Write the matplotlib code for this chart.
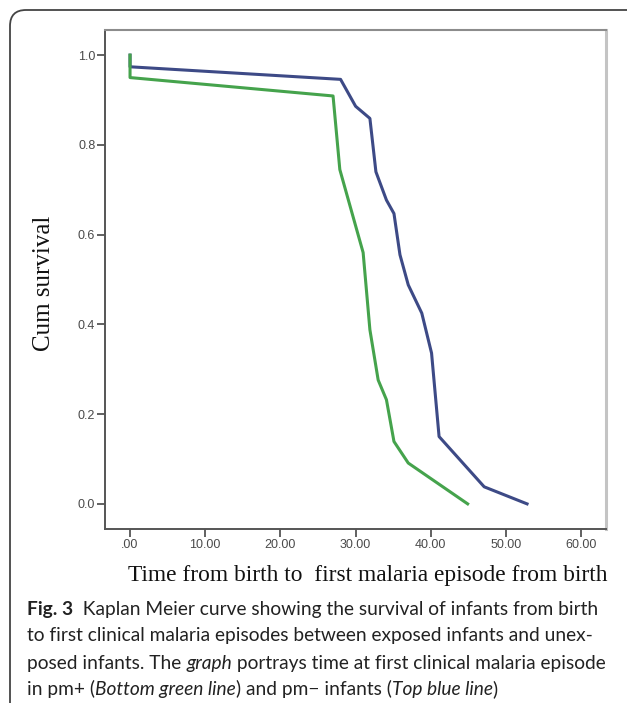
import matplotlib
matplotlib.use("Agg")
import matplotlib.pyplot as plt
from matplotlib.path import Path
from matplotlib.patches import PathPatch

# Kaplan Meier curves
t_neg = [0, 0, 28.0, 30.0, 31.9, 32.7, 34.1, 35.1, 35.9, 37.0, 38.8, 40.1, 41.1, 47.1, 52.8]
s_neg = [1.0, 0.974, 0.946, 0.886, 0.859, 0.740, 0.677, 0.647, 0.555, 0.488, 0.425, 0.336, 0.150, 0.038, 0.0]

t_pos = [0, 0, 27.0, 27.9, 31.0, 31.9, 33.0, 34.1, 35.1, 37.0, 44.9]
s_pos = [1.0, 0.950, 0.909, 0.745, 0.560, 0.388, 0.276, 0.232, 0.139, 0.091, 0.0]

xticks = [0, 10, 20, 30, 40, 50, 60]
xtick_labels = [".00", "10.00", "20.00", "30.00", "40.00", "50.00", "60.00"]
yticks = [0.0, 0.2, 0.4, 0.6, 0.8, 1.0]
ytick_labels = ["0.0", "0.2", "0.4", "0.6", "0.8", "1.0"]

caption = [
    [("Fig. 3", "bold"), ("  Kaplan Meier curve showing the survival of infants from birth", "normal")],
    [("to first clinical malaria episodes between exposed infants and unex-", "normal")],
    [("posed infants. The ", "normal"), ("graph", "italic"),
     (" portrays time at first clinical malaria episode", "normal")],
    [("in pm+ (", "normal"), ("Bottom green line", "italic"), (") and pm\u2212 infants (", "normal"),
     ("Top blue line", "italic"), (")", "normal")],
]

W, H = 627, 705
fig = plt.figure(figsize=(W / 100, H / 100), dpi=100)


def fx(x):
    return x / W


def fy(y):
    return 1 - y / H


# frame round the figure and caption
verts = [(fx(10), fy(703)), (fx(10), fy(26)), (fx(10), fy(10)), (fx(26), fy(10)), (fx(627), fy(10))]
codes = [Path.MOVETO, Path.LINETO, Path.CURVE3, Path.CURVE3, Path.LINETO]
fig.patches.append(PathPatch(Path(verts, codes), transform=fig.transFigure,
                             fill=False, edgecolor="#444444", lw=1.3))

ax = fig.add_axes([fx(105), fy(529), (606 - 105) / W, (529 - 30) / H])
ax.plot(t_neg, s_neg, color="#3d4a86", lw=2.2, solid_joinstyle="round")
ax.plot(t_pos, s_pos, color="#45a34c", lw=2.2, solid_joinstyle="round")

ax.set_xlim(-3.33, 63.3)
ax.set_ylim(-0.056, 1.056)
ax.set_xticks(xticks)
ax.set_xticklabels(xtick_labels)
ax.set_yticks(yticks)
ax.set_yticklabels(ytick_labels)
ax.tick_params(axis="both", direction="out", length=5.5, width=1.3, color="#555555",
               labelsize=9, labelcolor="#4a4a4a", pad=1.5)
for lab in ax.get_xticklabels() + ax.get_yticklabels():
    lab.set_family("Liberation Sans")

ax.spines["left"].set_color("#555555")
ax.spines["bottom"].set_color("#555555")
ax.spines["top"].set_color("#8c8c8c")
ax.spines["right"].set_color("#c4c4c4")
ax.spines["left"].set_linewidth(1.4)
ax.spines["bottom"].set_linewidth(1.4)
ax.spines["top"].set_linewidth(1.5)
ax.spines["right"].set_linewidth(2.2)

fig.text(fx(368), fy(575), "Time from birth to  first malaria episode from birth",
         family="Liberation Serif", fontsize=16.8, ha="center", va="center", color="#111111")
fig.text(fx(44), fy(283), "Cum survival", family="Liberation Serif", fontsize=18,
         rotation=90, ha="center", va="center", color="#111111")

renderer = fig.canvas.get_renderer()
line_y = [609, 636, 663, 689]
for segs, y in zip(caption, line_y):
    x = 27
    for s, style in segs:
        t = fig.text(fx(x), fy(y), s, family="Lato", fontsize=13.8, va="center", ha="left",
                     color="#222222",
                     fontweight="bold" if style == "bold" else "normal",
                     fontstyle="italic" if style == "italic" else "normal")
        x += t.get_window_extent(renderer=renderer).width

fig.savefig("out.png", dpi=100)
